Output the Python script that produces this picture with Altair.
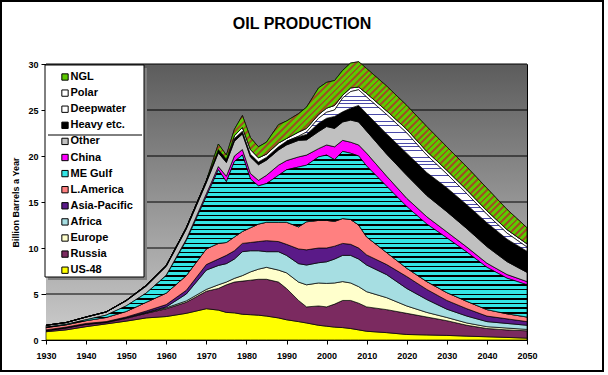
import altair as alt
import pandas as pd
import numpy as np

# ---------------- data (Billion barrels a year) ----------------
years = [1930, 1935, 1940, 1945, 1950, 1955, 1960, 1965, 1970, 1973, 1975, 1977, 1979,
         1981, 1983, 1985, 1988, 1990, 1993, 1995, 1998, 2000, 2002, 2004, 2006, 2008,
         2010, 2015, 2020, 2025, 2030, 2035, 2040, 2045, 2050]

us_48 = [0.9, 1.1, 1.45, 1.75, 2.05, 2.4, 2.55, 2.9, 3.4, 3.25, 3.0, 2.95, 2.8, 2.75, 2.7,
         2.6, 2.4, 2.2, 2.0, 1.85, 1.6, 1.5, 1.4, 1.35, 1.25, 1.1, 0.95, 0.8, 0.6, 0.55,
         0.5, 0.42, 0.35, 0.28, 0.2]
russia = [0.1, 0.2, 0.25, 0.15, 0.3, 0.5, 0.85, 1.2, 1.9, 2.35, 3.0, 3.35, 3.6, 3.75, 3.9,
          4.0, 3.9, 3.4, 2.3, 1.75, 2.1, 2.1, 2.5, 2.95, 3.05, 2.9, 2.65, 2.5, 2.3, 1.95,
          1.6, 1.18, 0.9, 0.82, 0.8]
europe = [0.05, 0.05, 0.05, 0.05, 0.05, 0.05, 0.1, 0.15, 0.2, 0.4, 0.3, 0.4, 0.6, 0.9, 1.1,
          1.3, 1.3, 1.7, 2.0, 2.4, 2.5, 2.55, 2.3, 2.05, 1.9, 1.8, 1.65, 1.3, 0.8, 0.5,
          0.35, 0.25, 0.2, 0.2, 0.15]
africa = [0.0, 0.0, 0.0, 0.0, 0.02, 0.05, 0.1, 0.75, 2.1, 2.1, 2.0, 2.1, 2.6, 2.3, 2.0,
          1.7, 2.0, 1.9, 2.0, 2.15, 2.2, 2.35, 2.6, 2.85, 3.0, 3.0, 2.9, 2.5, 1.9, 1.4,
          0.9, 0.75, 0.55, 0.5, 0.45]
asia_pacific = [0.05, 0.05, 0.05, 0.05, 0.08, 0.15, 0.25, 0.4, 0.6, 0.7, 0.9, 0.9, 0.9, 0.9,
                1.0, 1.2, 1.1, 1.2, 1.6, 1.65, 1.6, 1.5, 1.4, 1.3, 1.2, 1.2, 1.1, 1.1, 1.3,
                1.1, 0.95, 0.8, 0.6, 0.5, 0.4]
l_america = [0.25, 0.25, 0.3, 0.45, 0.6, 0.95, 1.25, 1.6, 1.7, 1.7, 1.4, 1.5, 1.3, 1.6, 1.9,
             2.0, 2.1, 2.4, 2.4, 3.05, 3.0, 3.0, 2.7, 2.7, 2.7, 2.5, 1.95, 1.3, 0.9, 0.85,
             0.85, 0.8, 0.7, 0.55, 0.5]
me_gulf = [0.05, 0.05, 0.1, 0.25, 0.6, 1.0, 1.9, 3.8, 5.7, 8.0, 6.6, 8.2, 8.3, 5.3, 4.15,
           4.2, 5.1, 5.7, 6.5, 6.15, 6.9, 7.1, 6.7, 7.3, 7.2, 7.5, 7.7, 7.2, 6.7, 6.25,
           5.95, 5.35, 4.6, 3.87, 3.5]
china = [0, 0, 0, 0, 0, 0, 0.05, 0.15, 0.3, 0.35, 0.6, 0.6, 0.6, 0.6, 0.6, 0.9, 1.1, 1.0,
         1.1, 1.1, 0.9, 1.1, 1.4, 1.2, 1.2, 1.2, 1.4, 1.1, 0.9, 0.8, 0.65, 0.55, 0.45, 0.4, 0.35]
other = [0.2, 0.2, 0.3, 0.35, 0.55, 0.75, 0.95, 1.1, 1.2, 1.5, 1.5, 1.6, 1.7, 1.8, 1.7,
         1.65, 1.65, 1.7, 1.8, 1.65, 1.85, 2.0, 2.0, 2.0, 2.4, 2.5, 2.4, 2.4, 2.5, 2.3,
         2.2, 2.0, 1.8, 1.4, 1.0]
heavy = [0, 0, 0, 0, 0.05, 0.1, 0.1, 0.15, 0.2, 0.35, 0.35, 0.3, 0.3, 0.3, 0.3, 0.3, 0.35,
         0.4, 0.4, 0.6, 0.9, 0.9, 1.3, 1.1, 1.3, 1.8, 1.9, 2.2, 2.4, 2.5, 2.6, 2.6, 2.6,
         2.45, 2.3]
deepwater = [0, 0, 0, 0, 0, 0, 0, 0, 0, 0, 0, 0, 0, 0, 0, 0, 0, 0, 0.05, 0.25, 0.55, 0.65,
             0.7, 1.5, 1.8, 1.7, 1.8, 2.1, 2.2, 1.9, 1.5, 1.2, 0.9, 0.65, 0.45]
polar = [0, 0, 0, 0, 0, 0, 0, 0, 0, 0, 0, 0.3, 0.4, 0.5, 0.45, 0.35, 0.4, 0.3, 0.45, 0.4,
         0.4, 0.45, 0.5, 0.3, 0.4, 0.3, 0.4, 0.4, 0.4, 0.4, 0.4, 0.4, 0.4, 0.38, 0.35]
ngl = [0, 0, 0, 0, 0, 0, 0, 0, 0, 0.6, 0.45, 0.7, 1.3, 1.3, 1.2, 1.3, 2.0, 1.9, 2.0, 2.3,
       2.9, 2.8, 2.7, 2.7, 2.7, 2.75, 2.7, 2.7, 2.6, 2.7, 2.55, 2.5, 2.45, 2.2, 1.75]

series_names = ["US-48", "Russia", "Europe", "Africa", "Asia-Pacific", "L.America",
                "ME Gulf", "China", "Other", "Heavy etc.", "Deepwater", "Polar", "NGL"]
series_values = [us_48, russia, europe, africa, asia_pacific, l_america, me_gulf, china,
                 other, heavy, deepwater, polar, ngl]
series_colors = ["#FFFF00", "#7B2A60", "#FFFFCC", "#A6DEE2", "#5A1A88", "#FF8080",
                 "#33E6E6", "#FF00FF", "#C0C0C0", "#000000", "#FFFFFF", "#FFFFFF", "#5CC800"]

x_ticks = [1930, 1940, 1950, 1960, 1970, 1980, 1990, 2000, 2010, 2020, 2030, 2040, 2050]
y_ticks = [0, 5, 10, 15, 20, 25, 30]
title_text = ["OIL PRODUCTION"]
y_title = "Billion Barrels a Year"

# ---------------- layout ----------------
W, H = 481, 276
FONT = "Liberation Sans"

rows = []
for k, (name, vals) in enumerate(zip(series_names, series_values)):
    for yr, v in zip(years, vals):
        rows.append({"year": yr, "series": name, "order": k, "value": v})
df = pd.DataFrame(rows)

# sizes of the patterned bands (used only to size the stripe patterns)
cum = np.cumsum(np.array(series_values, dtype=float), axis=0)
px_y = H / (y_ticks[-1] - y_ticks[0])
px_x = W / (x_ticks[-1] - x_ticks[0])
yrs = np.array(years)


def band_bbox(idx, start_year):
    m = yrs >= start_year
    hi = cum[idx][m]
    lo = cum[idx - 1][m]
    w = (yrs[m].max() - yrs[m].min()) * px_x
    h = (hi.max() - lo.min()) * px_y
    return w, h


def stripe_stops(c1, c2, n, frac2):
    stops = []
    for i in range(n):
        a = i / n
        b = (i + 1 - frac2) / n
        c = (i + 1) / n
        stops += [alt.GradientStop(offset=round(a, 6), color=c1),
                  alt.GradientStop(offset=round(b, 6), color=c1),
                  alt.GradientStop(offset=round(b, 6), color=c2),
                  alt.GradientStop(offset=round(c, 6), color=c2)]
    return stops


# ME Gulf: horizontal cyan / black stripes
_, h_me = band_bbox(6, years[0])
me_grad = alt.LinearGradient(gradient="linear",
                             stops=stripe_stops("#33E6E6", "#000000", int(round(h_me / 4.6)), 0.35),
                             x1=0, y1=0, x2=0, y2=1)
# Deepwater: white with thin dark-blue lines
_, h_dw = band_bbox(10, 1990)
dw_grad = alt.LinearGradient(gradient="linear",
                             stops=stripe_stops("#FFFFFF", "#4A4AA8", int(round(h_dw / 3.6)), 0.2),
                             x1=0, y1=0, x2=0, y2=1)
# NGL: green with brown diagonal stripes
w_n, h_n = band_bbox(12, 1970)
s = (w_n + h_n) * w_n / (w_n ** 2 + h_n ** 2)
ngl_grad = alt.LinearGradient(gradient="linear",
                              stops=stripe_stops("#5CC800", "#995522", int(round((w_n + h_n) / 6.6)), 0.42),
                              x1=0, y1=0, x2=s, y2=s * h_n / w_n)

bg_grad = alt.LinearGradient(gradient="linear",
                             stops=[alt.GradientStop(offset=0, color="#5c5c5c"),
                                    alt.GradientStop(offset=1, color="#cdcdcd")],
                             x1=0, y1=0, x2=0, y2=1)

# ---------------- encodings ----------------
y_scale = alt.Scale(domain=[y_ticks[0], y_ticks[-1]], nice=False)
x_enc = alt.X("year:Q",
              scale=alt.Scale(domain=[x_ticks[0], x_ticks[-1]], nice=False, zero=False),
              axis=alt.Axis(values=x_ticks, format="d", title=None, grid=False,
                            tickSize=4, tickColor="black", domainColor="black",
                            labelFont=FONT, labelFontSize=9, labelFontWeight="bold",
                            labelColor="black", labelPadding=7, labelFlush=False))
y_axis = alt.Axis(values=y_ticks, title=y_title, grid=False, tickSize=5,
                  tickColor="black", domainColor="black", labelFont=FONT,
                  labelFontSize=9, labelFontWeight="bold", labelColor="black",
                  labelPadding=3, titleFont=FONT, titleFontSize=9,
                  titleFontWeight="bold", titleColor="black", titlePadding=7)
y_enc = alt.Y("lo:Q", scale=y_scale, axis=y_axis, title=y_title)
y2_enc = alt.Y2("hi:Q")

base = alt.Chart(df).transform_stack(
    stack="value", groupby=["year"],
    sort=[alt.SortField("order", order="ascending")], as_=["lo", "hi"])

legend_order = list(reversed(series_names))
legend_colors = list(reversed(series_colors))

solid = base.mark_area(stroke="black", strokeWidth=0.7).encode(
    x=x_enc, y=y_enc, y2=y2_enc,
    color=alt.Color("series:N",
                    scale=alt.Scale(domain=legend_order, range=legend_colors),
                    legend=alt.Legend(orient="none", legendX=-1, legendY=3, title=None,
                                      symbolType="square", symbolSize=40,
                                      symbolStrokeColor="black", symbolStrokeWidth=1,
                                      symbolOffset=10, labelFont=FONT, labelFontSize=11,
                                      labelFontWeight="bold", labelColor="black",
                                      labelOffset=0, rowPadding=4.1, padding=4.5,
                                      labelLimit=200)))

me_layer = base.transform_filter(alt.datum.series == "ME Gulf").mark_area(
    fill=me_grad, stroke="black", strokeWidth=0.7).encode(x=x_enc, y=y_enc, y2=y2_enc)
dw_layer = base.transform_filter(
    (alt.datum.series == "Deepwater") & (alt.datum.year >= 1990)).mark_area(
    fill=dw_grad, stroke="black", strokeWidth=0.7).encode(x=x_enc, y=y_enc, y2=y2_enc)
ngl_layer = base.transform_filter(
    (alt.datum.series == "NGL") & (alt.datum.year >= 1970)).mark_area(
    fill=ngl_grad, stroke="black", strokeWidth=0.7).encode(x=x_enc, y=y_enc, y2=y2_enc)

one = pd.DataFrame({"k": [0]})
background = alt.Chart(one).mark_rect(fill=bg_grad).encode(
    x=alt.value(0), x2=alt.value(W), y=alt.value(0), y2=alt.value(H))
grid = alt.Chart(pd.DataFrame({"lo": y_ticks})).mark_rule(color="black", strokeWidth=1).encode(
    y=alt.Y("lo:Q", scale=y_scale, axis=y_axis, title=y_title))
shadow = alt.Chart(one).mark_rect(fill="#808080").encode(
    x=alt.value(2), x2=alt.value(101), y=alt.value(4), y2=alt.value(216))
box = alt.Chart(one).mark_rect(fill="white", stroke="black", strokeWidth=1).encode(
    x=alt.value(-1), x2=alt.value(98), y=alt.value(1), y2=alt.value(213))
divider = alt.Chart(one).mark_rule(color="black", strokeWidth=1).encode(
    x=alt.value(2), x2=alt.value(96), y=alt.value(71))
frame = alt.Chart(one).mark_rect(fillOpacity=0, stroke="black", strokeWidth=2).encode(
    x=alt.value(-45), x2=alt.value(557), y=alt.value(-63), y2=alt.value(307))
title = alt.Chart(pd.DataFrame({"t": title_text})).mark_text(
    font=FONT, fontSize=16, fontWeight="bold", color="black", align="center",
    baseline="middle").encode(text="t:N", x=alt.value(256), y=alt.value(-40))

chart = alt.layer(background, grid, shadow, box, solid, me_layer, dw_layer, ngl_layer,
                  divider, title, frame).properties(
    width=W, height=H,
    padding={"left": 46, "top": 64, "right": 81, "bottom": 35},
    autosize=alt.AutoSizeParams(type="none"),
).configure(background="white").configure_view(stroke="black", strokeWidth=1)

chart.save("out.html", embed_options={"renderer": "svg", "actions": False})
